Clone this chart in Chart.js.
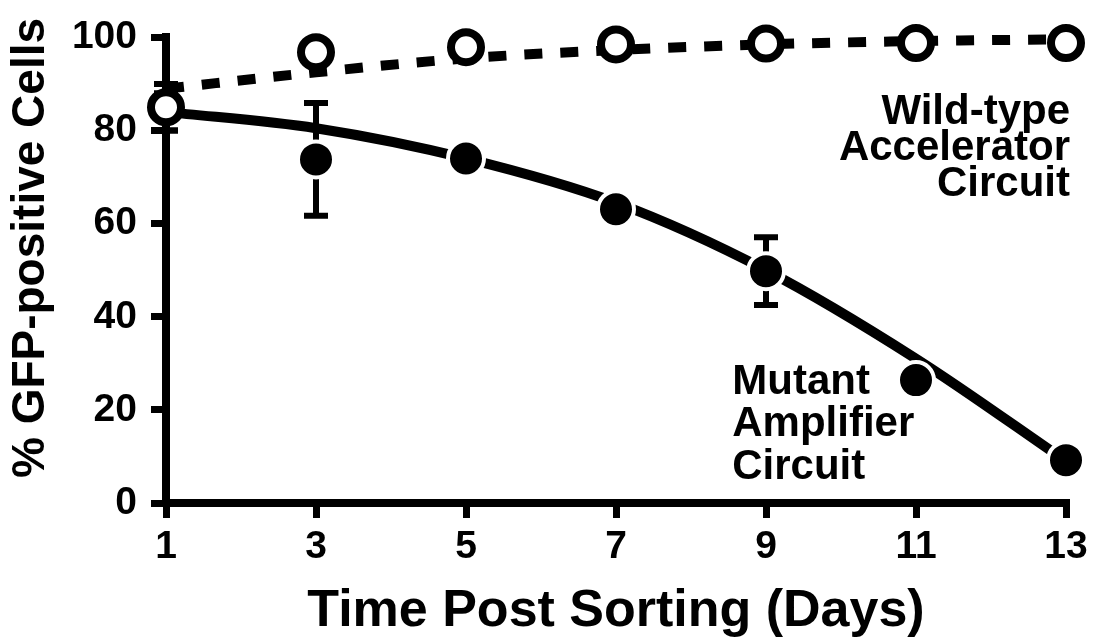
<!DOCTYPE html>
<html>
<head>
<meta charset="utf-8">
<script src="https://cdn.jsdelivr.net/npm/chart.js@4"></script>
<style>
  html, body { margin: 0; padding: 0; background: #fff; }
  canvas { display: block; }
</style>
</head>
<body>
<canvas id="chart" width="1094" height="641"></canvas>
<script>
// Days after sorting (x categories)
const days = [1, 3, 5, 7, 9, 11, 13];

// Wild-type accelerator circuit: mean, SD and fitted curve
const wildTypeMean = [85, 96.8, 97.9, 98.5, 98.7, 98.8, 98.8];
const wildTypeSD   = [5, 1, 1, 0.5, 0.5, 0.5, 0.5];
const wildTypeFit  = [89, 92.5, 95.5, 97.3, 98.5, 99.2, 99.6];

// Mutant amplifier circuit: mean, SD and fitted curve
const mutantMean = [84, 73.8, 74.0, 63.1, 49.8, 26.4, 9.2];
const mutantSD   = [4, 12.1, 1, 1, 7.3, 1.5, 1];
const mutantFit  = [84, 80.5, 74, 64.5, 50, 31, 9];

// Axis ticks
const xTicks = [1, 3, 5, 7, 9, 11, 13];
const yTicks = [0, 20, 40, 60, 80, 100];

const FONT = "'Liberation Sans', Arial, Helvetica, sans-serif";
const pts = (ys) => days.map((d, i) => ({ x: d, y: ys[i] }));

// Vertical SD bars with caps, drawn under the markers
const errorBars = {
  id: 'errorBars',
  beforeDatasetsDraw(chart) {
    const { ctx, scales: { x, y } } = chart;
    ctx.save();
    ctx.strokeStyle = '#000';
    ctx.lineWidth = 6;
    ctx.lineCap = 'butt';
    const draw = (means, sds) => means.forEach((m, i) => {
      if (!sds[i]) return;
      const px = x.getPixelForValue(days[i]);
      const top = y.getPixelForValue(m + sds[i]);
      const bot = y.getPixelForValue(m - sds[i]);
      ctx.beginPath();
      ctx.moveTo(px, top); ctx.lineTo(px, bot);
      ctx.moveTo(px - 12, top); ctx.lineTo(px + 12, top);
      ctx.moveTo(px - 12, bot); ctx.lineTo(px + 12, bot);
      ctx.stroke();
    });
    draw(mutantMean, mutantSD);
    draw(wildTypeMean, wildTypeSD);
    ctx.restore();
  }
};

// Y-axis title and the two series labels
const labels = {
  id: 'labels',
  afterDraw(chart) {
    const { ctx, scales: { x, y } } = chart;
    ctx.save();
    ctx.fillStyle = '#000';

    // y-axis title
    ctx.font = `bold 46px ${FONT}`;
    ctx.translate(31, 248);
    ctx.rotate(-Math.PI / 2);
    ctx.textAlign = 'center';
    ctx.textBaseline = 'middle';
    ctx.fillText('% GFP-positive Cells', 0, 0);
    ctx.setTransform(1, 0, 0, 1, 0, 0);

    ctx.font = `bold 42px ${FONT}`;
    ctx.textBaseline = 'alphabetic';

    // Wild-type label, right aligned at the last day
    ctx.textAlign = 'right';
    const wx = x.getPixelForValue(13) + 4;
    const wy = y.getPixelForValue(81.5);
    ['Wild-type', 'Accelerator', 'Circuit'].forEach((t, i) => ctx.fillText(t, wx, wy + i * 36));

    // Mutant label
    ctx.textAlign = 'left';
    const mx = x.getPixelForValue(8.55);
    const my = y.getPixelForValue(23.5);
    ['Mutant', 'Amplifier', 'Circuit'].forEach((t, i) => ctx.fillText(t, mx, my + i * 42.5));
    ctx.restore();
  }
};

const axisCommon = {
  grid: { display: true, drawOnChartArea: false, drawTicks: true, tickLength: 15, lineWidth: 7, color: '#000' },
  border: { display: true, width: 8, color: '#000' },
};

new Chart(document.getElementById('chart'), {
  type: 'scatter',
  data: {
    datasets: [
      {
        label: 'Wild-type fit',
        data: pts(wildTypeFit),
        showLine: true,
        borderColor: '#000',
        borderWidth: 10,
        borderDash: [18, 18],
        borderCapStyle: 'butt',
        cubicInterpolationMode: 'monotone',
        pointRadius: 0,
        clip: false,
        order: 6
      },
      {
        label: 'Mutant fit',
        data: pts(mutantFit),
        showLine: true,
        borderColor: '#000',
        borderWidth: 10,
        borderCapStyle: 'butt',
        cubicInterpolationMode: 'monotone',
        pointRadius: 0,
        clip: false,
        order: 5
      },
      {
        label: 'Mutant Amplifier Circuit',
        data: pts(mutantMean),
        showLine: false,
        // day 1 sits beneath the wild-type marker
        pointRadius: (c) => (c.dataIndex === 0 ? 0 : 18),
        pointBackgroundColor: '#000',
        pointBorderColor: '#fff',
        pointBorderWidth: 4,
        clip: false,
        order: 4
      },
      {
        label: 'Wild-type Accelerator Circuit',
        data: pts(wildTypeMean),
        showLine: false,
        pointRadius: 15,
        pointBackgroundColor: '#fff',
        pointBorderColor: '#000',
        pointBorderWidth: 8,
        clip: false,
        order: 3
      }
    ]
  },
  options: {
    responsive: false,
    animation: false,
    devicePixelRatio: 1,
    layout: { padding: { top: 37, right: 28, left: 0, bottom: 0 } },
    plugins: { legend: { display: false }, tooltip: { enabled: false } },
    scales: {
      x: {
        type: 'linear',
        position: 'bottom',
        min: 1,
        max: 13,
        ...axisCommon,
        afterBuildTicks: (s) => { s.ticks = xTicks.map((v) => ({ value: v })); },
        afterFit: (s) => { s.height = 138; },
        ticks: {
          color: '#000',
          font: { family: FONT, size: 39, weight: 'bold' },
          padding: 6,
          maxRotation: 0,
          autoSkip: false
        },
        title: {
          display: true,
          text: 'Time Post Sorting (Days)',
          color: '#000',
          font: { family: FONT, size: 52, weight: 'bold', lineHeight: 1 },
          padding: { top: 0, bottom: 3 }
        }
      },
      y: {
        type: 'linear',
        min: 0,
        max: 100,
        ...axisCommon,
        afterBuildTicks: (s) => { s.ticks = yTicks.map((v) => ({ value: v })); },
        afterFit: (s) => { s.width = 166; },
        ticks: {
          color: '#000',
          font: { family: FONT, size: 39, weight: 'bold' },
          padding: 14
        }
      }
    }
  },
  plugins: [errorBars, labels]
});
</script>
</body>
</html>
